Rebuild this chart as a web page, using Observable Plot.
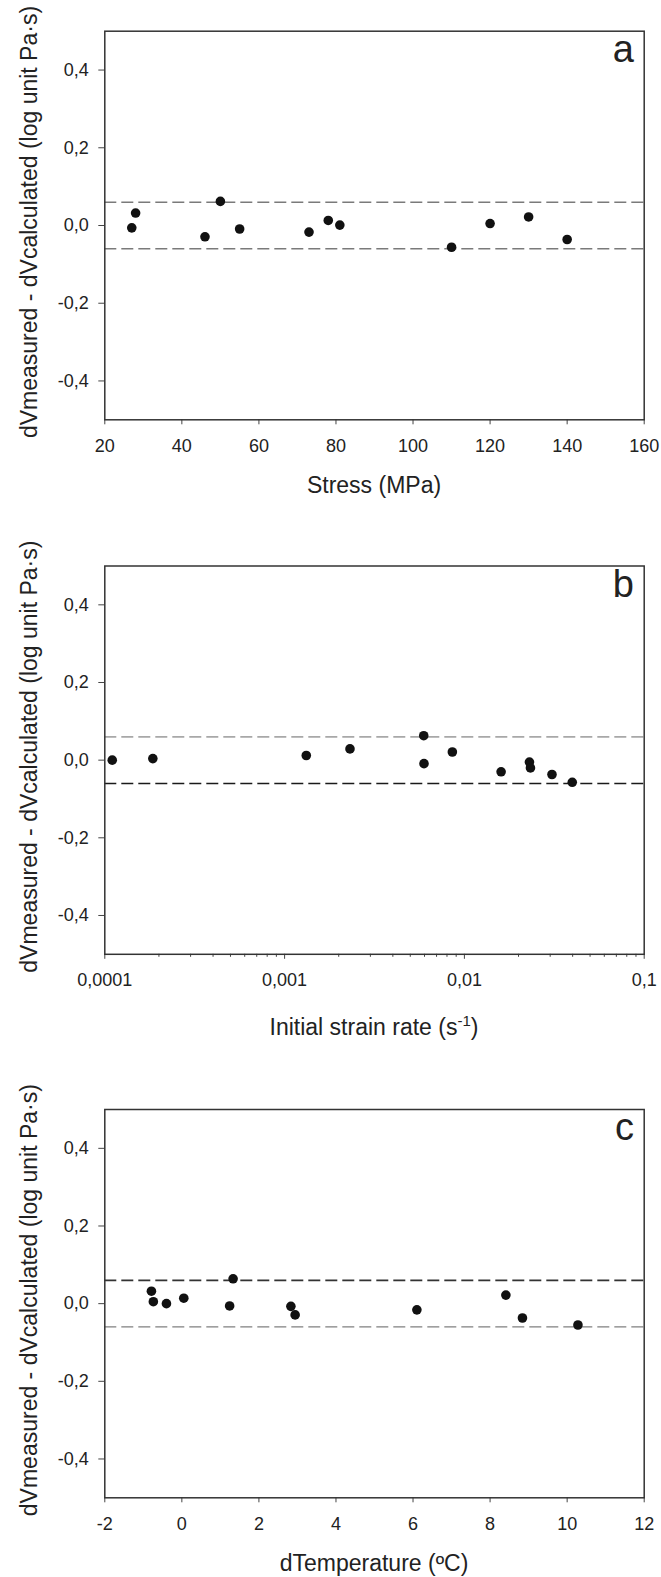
<!DOCTYPE html>
<html><head><meta charset="utf-8">
<script src="https://cdn.jsdelivr.net/npm/d3@7"></script>
<script src="https://cdn.jsdelivr.net/npm/@observablehq/plot@0.6"></script>
<style>
body{margin:0;background:#fff;width:661px;}
svg{display:block;}
</style></head><body><div id="chart"></div>
<script>
// ---- data ----
const stressMPa = [27, 28, 46, 50, 55, 73, 78, 81, 110, 120, 130, 140];
const residualA = [-0.006, 0.032, -0.029, 0.062, -0.009, -0.017, 0.013, 0.001, -0.056, 0.005, 0.022, -0.036];

const strainRate = [0.00011, 0.000185, 0.00132, 0.00231, 0.00594, 0.00596, 0.00857, 0.0160, 0.0230, 0.0233, 0.0307, 0.0398];
const residualB = [0.000, 0.004, 0.012, 0.029, 0.063, -0.009, 0.021, -0.030, -0.005, -0.020, -0.037, -0.057];

const dTemperature = [-0.79, -0.74, -0.40, 0.05, 1.24, 1.33, 2.83, 2.94, 6.10, 8.41, 8.84, 10.28];
const residualC = [0.032, 0.005, 0.000, 0.014, -0.006, 0.064, -0.007, -0.029, -0.016, 0.022, -0.037, -0.055];

const bandUpper = [0.06];
const bandLower = [-0.06];

const yTicks = [-0.4, -0.2, 0, 0.2, 0.4];
const xTicksA = [20, 40, 60, 80, 100, 120, 140, 160];
const xTicksB = [0.0001, 0.001, 0.01, 0.1];
const xTickLabelsB = ["0,0001", "0,001", "0,01", "0,1"];
const xMinorB = [0.0002,0.0003,0.0004,0.0005,0.0006,0.0007,0.0008,0.0009,
                 0.002,0.003,0.004,0.005,0.006,0.007,0.008,0.009,
                 0.02,0.03,0.04,0.05,0.06,0.07,0.08,0.09];
const xTicksC = [-2, 0, 2, 4, 6, 8, 10, 12];

const yTitle = "dVmeasured - dVcalculated (log unit Pa·s)";
const xTitleA = "Stress (MPa)";
const xTitleB = ["Initial strain rate (s", "-1", ")"];
const xTitleC = "dTemperature (ºC)";
const panelLetters = ["a", "b", "c"];

// ---- helpers ----
const FONT = "'Liberation Sans', Arial, Helvetica, sans-serif";
const fmtComma = d => (d < 0 ? "-" : "") + Math.abs(d).toFixed(1).replace(".", ",");
const fmtInt = d => (d < 0 ? "-" : "") + Math.abs(d);

function panel(o) {
  const data = o.xs.map((x, i) => ({x, y: o.ys[i]}));
  const marks = [
    Plot.ruleY(bandUpper, {stroke: o.upper.color, strokeWidth: o.upper.w, strokeDasharray: o.upper.dash}),
    Plot.ruleY(bandLower, {stroke: o.lower.color, strokeWidth: o.lower.w, strokeDasharray: o.lower.dash}),
    Plot.dot(data, {x: "x", y: "y", r: 4.8, fill: "#111", stroke: "none"}),
    Plot.axisY(yTicks, {tickSize: 6, tickPadding: 10, tickFormat: fmtComma, stroke: "#444", fill: "#222", fontSize: 18, label: null}),
    Plot.axisX(o.xTicks, {tickSize: 5, tickPadding: 14, tickFormat: o.fmtX, stroke: "#444", fill: "#222", fontSize: 18, label: null})
  ];
  if (o.minor) marks.push(Plot.axisX(o.minor, {tickSize: 3, tickFormat: () => "", stroke: "#444", label: null}));
  marks.push(Plot.frame({stroke: "#333", strokeWidth: 1.5}));
  const plot = Plot.plot({
    width: 661, height: o.height,
    marginLeft: 104.3, marginRight: 17.3, marginTop: o.mt, marginBottom: o.mb,
    style: {fontFamily: FONT, fontSize: "18px", color: "#222", background: "#fff", overflow: "visible"},
    x: {type: o.xType, domain: o.xDomain, label: null},
    y: {domain: [-0.5, 0.5], label: null},
    marks
  });
  const svg = d3.select(plot);
  const fTop = o.mt, fBot = o.height - o.mb;
  svg.append("text")
    .attr("transform", `translate(37, ${(fTop + fBot) / 2 - 3}) rotate(-90)`)
    .attr("text-anchor", "middle").attr("fill", "#222")
    .style("font-family", FONT).style("font-size", "23px")
    .text(yTitle);
  const xt = svg.append("text")
    .attr("x", 374).attr("y", o.xTitleY).attr("text-anchor", "middle").attr("fill", "#222")
    .style("font-family", FONT).style("font-size", "23px");
  if (Array.isArray(o.xTitle)) {
    xt.append("tspan").text(o.xTitle[0]);
    xt.append("tspan").attr("dy", -9).style("font-size", "15px").text(o.xTitle[1]);
    xt.append("tspan").attr("dy", 9).text(o.xTitle[2]);
  } else xt.text(o.xTitle);
  svg.append("text")
    .attr("x", 634).attr("y", fTop + 31).attr("text-anchor", "end").attr("fill", "#222")
    .style("font-family", FONT).style("font-size", "38px")
    .text(o.letter);
  return plot;
}

const chart = document.getElementById("chart");
chart.append(panel({
  xs: stressMPa, ys: residualA, xType: "linear", xDomain: [20, 160], xTicks: xTicksA, fmtX: fmtInt,
  height: 535, mt: 30.7, mb: 115.7, xTitle: xTitleA, xTitleY: 493, letter: panelLetters[0],
  upper: {color: "#7a7a7a", w: 1.5, dash: "12,5"}, lower: {color: "#7a7a7a", w: 1.5, dash: "12,5"}
}));
chart.append(panel({
  xs: strainRate, ys: residualB, xType: "log", xDomain: [0.0001, 0.1], xTicks: xTicksB,
  fmtX: (d, i) => xTickLabelsB[xTicksB.indexOf(d)], minor: xMinorB,
  height: 543, mt: 30.5, mb: 124.2, xTitle: xTitleB, xTitleY: 500, letter: panelLetters[1],
  upper: {color: "#a8a8a8", w: 1.6, dash: "12,5"}, lower: {color: "#1a1a1a", w: 1.6, dash: "12,5"}
}));
chart.append(panel({
  xs: dTemperature, ys: residualC, xType: "linear", xDomain: [-2, 12], xTicks: xTicksC, fmtX: fmtInt,
  height: 499, mt: 31, mb: 79.7, xTitle: xTitleC, xTitleY: 493, letter: panelLetters[2],
  upper: {color: "#333", w: 1.8, dash: "12,5"}, lower: {color: "#808080", w: 1.3, dash: "12,5"}
}));
</script></body></html>
